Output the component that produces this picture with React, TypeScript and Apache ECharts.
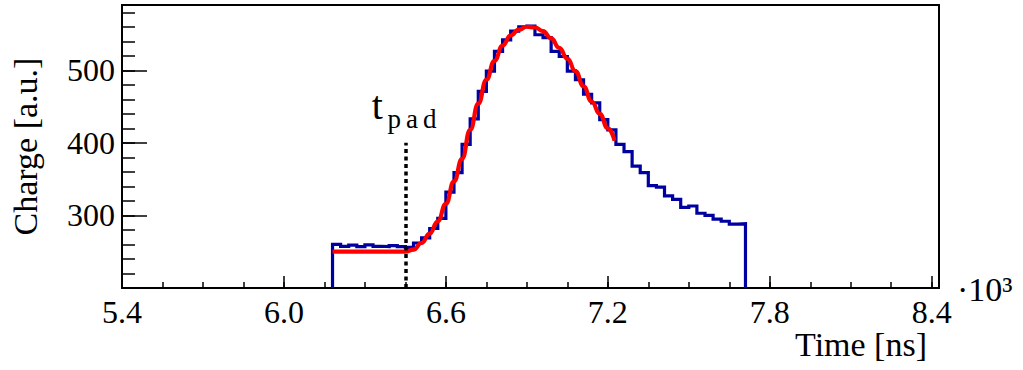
import React, { useEffect, useRef } from 'react';
import * as echarts from 'echarts';

// Histogram: bins of 30 ns starting at 6180 ns
const binStart = 6180;
const binWidth = 30;
const charge = [
  260, 257.5, 259, 257, 259.5, 257.5, 257, 258.5, 257, 256,
  262, 269, 282, 296, 332, 359, 398, 433, 471, 499,
  526, 542, 554, 560, 561, 549, 545, 526, 519, 499,
  487, 467, 455, 432, 418, 398, 388, 368, 359, 341,
  339, 327, 322, 311, 313, 303, 300, 295, 292, 288, 288.5,
];

// Fit curve
const fitTime = [
  6180, 6450, 6480, 6510, 6540, 6570, 6600, 6630, 6660, 6690,
  6720, 6750, 6780, 6810, 6840, 6870, 6900, 6930, 6960, 6990,
  7020, 7050, 7080, 7110, 7140, 7170, 7200, 7225,
];
const fitCharge = [
  250, 250, 253, 262, 275, 292, 316, 347, 378, 418,
  454, 487, 513, 534, 548, 556, 560, 559, 554, 544,
  531, 516, 499, 478, 457, 440, 420, 403,
];

const tPad = 6450;
const tPadTop = 400;

const xMin = 5400;
const xMax = 8427;
const yMin = 200;
const yMax = 590;
const xMajor = [5400, 6000, 6600, 7200, 7800, 8400];
const xMinorStep = 150;
const yMajor = [200, 300, 400, 500];
const yLabels = [300, 400, 500];
const yMinorStep = 20;

const FONT = 'Liberation Serif';

export default function App() {
  const ref = useRef<HTMLDivElement>(null);
  useEffect(() => {
    const chart = echarts.init(ref.current!, null, { renderer: 'svg' });

    const histData: number[][] = [[binStart, yMin]];
    charge.forEach((v, i) => histData.push([binStart + i * binWidth, v]));
    const end = binStart + charge.length * binWidth;
    histData.push([end, charge[charge.length - 1]]);
    histData.push([end, yMin]);

    const fitData = fitTime.map((t, i) => [t, fitCharge[i]]);

    const xMinor: number[] = [];
    for (let v = xMin; v <= 8400; v += xMinorStep) xMinor.push(v);
    const yMinor: number[] = [];
    for (let v = yMin; v <= 580; v += yMinorStep) yMinor.push(v);

    const option: any = {
      animation: false,
      backgroundColor: '#ffffff',
      textStyle: { fontFamily: FONT, color: '#000' },
      grid: {
        left: 122,
        top: 5,
        right: 84,
        bottom: 82,
        show: true,
        borderColor: '#000',
        borderWidth: 2,
        containLabel: false,
        outerBoundsMode: 'none',
      },
      xAxis: [
        {
          type: 'value',
          min: xMin,
          max: xMax,
          position: 'bottom',
          axisLine: { show: true, lineStyle: { color: '#000', width: 2 } },
          axisTick: {
            show: true,
            inside: true,
            length: 12,
            lineStyle: { color: '#000', width: 1.5 },
            customValues: xMajor,
          },
          axisLabel: {
            show: true,
            customValues: xMajor,
            margin: 8,
            fontSize: 32,
            fontFamily: FONT,
            color: '#000',
            formatter: (v: number) => (v / 1000).toFixed(1),
          },
          splitLine: { show: false },
        },
        {
          type: 'value',
          min: xMin,
          max: xMax,
          position: 'bottom',
          axisLine: { show: false },
          axisTick: {
            show: true,
            inside: true,
            length: 6,
            lineStyle: { color: '#000', width: 1.5 },
            customValues: xMinor,
          },
          axisLabel: { show: false },
          splitLine: { show: false },
        },
      ],
      yAxis: [
        {
          type: 'value',
          min: yMin,
          max: yMax,
          position: 'left',
          axisLine: { show: true, lineStyle: { color: '#000', width: 2 } },
          axisTick: {
            show: true,
            inside: true,
            length: 25,
            lineStyle: { color: '#000', width: 1.5 },
            customValues: yMajor,
          },
          axisLabel: {
            show: true,
            customValues: yLabels,
            margin: 7,
            fontSize: 32,
            fontFamily: FONT,
            color: '#000',
          },
          splitLine: { show: false },
          name: 'Charge [a.u.]',
          nameLocation: 'middle',
          nameGap: 80,
          nameTextStyle: { fontSize: 34, fontFamily: FONT, color: '#000' },
        },
        {
          type: 'value',
          min: yMin,
          max: yMax,
          position: 'left',
          axisLine: { show: false },
          axisTick: {
            show: true,
            inside: true,
            length: 13,
            lineStyle: { color: '#000', width: 1.5 },
            customValues: yMinor,
          },
          axisLabel: { show: false },
          splitLine: { show: false },
        },
      ],
      series: [
        {
          type: 'line',
          name: 'histogram',
          xAxisIndex: 0,
          yAxisIndex: 0,
          data: histData,
          step: 'end',
          showSymbol: false,
          symbol: 'none',
          lineStyle: { color: '#0000a0', width: 3.2, join: 'miter' },
          z: 2,
        },
        {
          type: 'line',
          name: 'fit',
          xAxisIndex: 0,
          yAxisIndex: 0,
          data: fitData,
          smooth: 0.5,
          smoothMonotone: 'x',
          showSymbol: false,
          symbol: 'none',
          lineStyle: { color: '#ff0000', width: 4.2 },
          z: 3,
          markLine: {
            silent: true,
            symbol: ['none', 'none'],
            z: 5,
            lineStyle: { color: '#000', width: 3.5, type: [4, 3.5] },
            label: {
              show: true,
              position: 'end',
              distance: 10,
              formatter: '{t|t}{s|p}{s|a}{s|d}',
              rich: {
                t: {
                  fontSize: 40,
                  fontFamily: FONT,
                  color: '#000',
                  verticalAlign: 'bottom',
                  padding: [0, 2, 7, 0],
                },
                s: {
                  fontSize: 27,
                  fontFamily: FONT,
                  color: '#000',
                  verticalAlign: 'bottom',
                  padding: [0, 2.5, 0, 2.5],
                },
              },
            },
            data: [[{ coord: [tPad, yMin] }, { coord: [tPad, tPadTop] }]],
          },
        },
      ],
      graphic: [
        {
          type: 'text',
          right: 96,
          top: 327,
          style: {
            text: 'Time [ns]',
            fontSize: 34,
            fontFamily: FONT,
            fill: '#000',
          },
        },
        {
          type: 'text',
          left: 957,
          top: 272,
          style: {
            text: '·10³',
            fontSize: 34,
            fontFamily: FONT,
            fill: '#000',
          },
        },
      ],
    };
    chart.setOption(option);
    return () => chart.dispose();
  }, []);
  return (
    <div
      ref={ref}
      style={{ position: 'fixed', left: 0, top: 0, width: 1023, height: 370 }}
    />
  );
}
